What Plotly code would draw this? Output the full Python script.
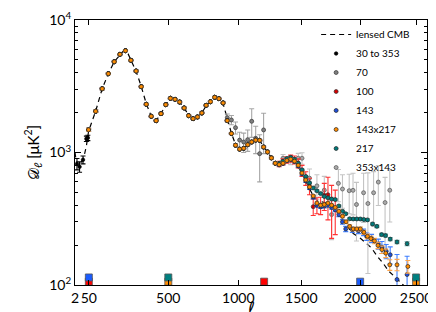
import plotly.graph_objects as go

# ---------------- data ----------------
# x axis of the reference is warped as ell**0.8
WARP = 0.8

# lensed CMB model curve
ell_model = [2, 5, 10, 20, 30, 40, 49, 80, 111, 142, 173, 204, 220, 235, 250, 266, 297, 328, 359, 390,
             421, 452, 483, 514, 545, 576, 607, 638, 669, 700, 731, 762, 793, 824, 855, 886, 917, 948,
             979, 1010, 1041, 1072, 1103, 1134, 1165, 1196, 1227, 1258, 1289, 1320, 1351, 1382, 1413,
             1444, 1475, 1506, 1537, 1568, 1599, 1630, 1661, 1692, 1723, 1754, 1785, 1816, 1847, 1878,
             1909, 1940, 1971, 2002, 2050, 2100, 2150, 2200, 2250, 2300, 2350, 2400, 2450, 2500, 2600]
D_model = [1000, 860, 800, 830, 920, 1120, 1450, 2050, 3030, 3935, 4840, 5500, 5780, 5830, 5550, 5000,
           4100, 3150, 2330, 1880, 1740, 1960, 2290, 2540, 2540, 2400, 2170, 1910, 1800, 1840, 1990,
           2250, 2450, 2580, 2540, 2340, 1800, 1400, 1150, 1065, 1080, 1140, 1200, 1235, 1230, 1110,
           1010, 910, 830, 800, 815, 850, 870, 845, 780, 690, 610, 530, 470, 440, 425, 420, 412, 395,
           370, 340, 310, 285, 262, 245, 235, 225, 208, 190, 165, 147, 128, 116, 106, 97, 89, 82, 72]

# common binned band powers (all channels agree here)
ell_low = [49, 80, 111, 142, 173, 204, 235, 266, 297, 328, 359, 390, 421, 452, 483, 514, 545, 576,
           607, 638, 669, 700, 731, 762, 793, 824, 855, 886]
D_low = [1486, 2047, 3030, 3935, 4842, 5510, 5865, 4966, 4122, 3140, 2312, 1876, 1738, 1964, 2296,
         2566, 2520, 2404, 2168, 1897, 1800, 1854, 1987, 2271, 2417, 2611, 2547, 2366]
err_low = [40, 45, 50, 60, 60, 70, 70, 60, 50, 40, 30, 25, 25, 25, 25, 25, 25, 25, 25, 20, 20, 20,
           20, 25, 25, 25, 25, 25]

ell_mid = [917, 948, 979, 1010, 1041, 1072, 1103, 1134, 1165, 1196, 1227, 1258, 1289]
D_mid = [1740, 1390, 1135, 1060, 1075, 1145, 1200, 1240, 1235, 1100, 1010, 910, 830]
err_mid = [20, 18, 16, 15, 15, 15, 16, 16, 16, 15, 15, 14, 14]

ell_hi = [1320, 1351, 1382, 1413, 1444, 1475, 1506, 1537, 1568, 1599, 1630, 1661, 1692, 1723,
          1754, 1785, 1816, 1847]

# 30 to 353 (low ell)
ell_030 = [7, 15, 27, 40, 46]
D_030 = [820, 780, 880, 1270, 1290]
err_030 = [80, 70, 60, 60, 60]

# 70 GHz
ell_70_tail = [917, 948, 979, 1010, 1041, 1072, 1103, 1134, 1165, 1196]
D_70_tail = [1830, 1760, 1540, 1240, 1200, 1250, 1720, 1280, 980, 1480]
err_70_tail = [120, 140, 160, 180, 200, 230, 420, 300, 380, 500]

# 100 GHz
D_100_hi = [820, 850, 880, 900, 880, 830, 730, 640, 560, 390, 400, 400, 475, 480, 395, 380]
err_100_hi = [40, 45, 50, 55, 60, 65, 70, 75, 80, 55, 55, 60, 110, 170, 170, 140]

# 143 GHz
D_143_hi = [805, 825, 865, 885, 855, 790, 690, 610, 540, 460, 400, 390, 395, 400, 385, 370, 340, 300]
err_143_hi = [15, 15, 16, 17, 17, 17, 16, 15, 14, 13, 12, 12, 12, 12, 12, 12, 12, 12]
ell_143_tail = [1875, 1932, 1986, 2030, 2058, 2100, 2160, 2192, 2230, 2266, 2327, 2418]
D_143_tail = [265, 261, 257, 250, 232, 225, 204, 193, 180, 169, 110, 120]
err_143_tail = [12, 12, 13, 14, 15, 16, 18, 20, 22, 25, 60, 45]

# 143x217
D_x_hi = [810, 830, 870, 890, 860, 800, 700, 620, 550, 470, 415, 400, 405, 415, 400, 385, 360, 330]
err_x_hi = [12, 12, 13, 13, 13, 12, 11, 10, 9, 9, 8, 8, 8, 8, 8, 8, 8, 8]
ell_x_tail = [1878, 1909, 1940, 1971, 2002, 2033, 2064, 2095, 2126, 2157, 2192, 2226, 2262, 2327, 2425]
D_x_tail = [300, 277, 265, 265, 265, 250, 233, 224, 215, 199, 185, 174, 142, 142, 138]
err_x_tail = [8, 8, 8, 8, 9, 9, 9, 10, 10, 11, 12, 13, 13, 14, 15]

# 217 GHz
D_217_hi = [830, 860, 900, 920, 890, 830, 740, 660, 590, 540, 514, 490, 466, 455, 445, 441, 395, 360]
err_217_hi = [10, 10, 11, 11, 11, 10, 9, 9, 8, 8, 8, 8, 7, 7, 7, 7, 7, 7]
ell_217_tail = [1875, 1909, 1940, 1971, 2002, 2033, 2064, 2109, 2147, 2189, 2224, 2266, 2327, 2418]
D_217_tail = [345, 316, 315, 315, 315, 312, 310, 289, 277, 240, 236, 222, 211, 205]
err_217_tail = [6, 6, 6, 6, 6, 6, 6, 6, 6, 6, 6, 6, 6, 7]

# 353x143
ell_353_hi = [1351, 1413, 1475, 1506, 1568, 1630, 1692, 1754, 1812, 1847, 1905, 1938, 1968, 2030,
              2068, 2118, 2160, 2220, 2262]
D_353_hi = [905, 880, 905, 905, 640, 560, 520, 340, 585, 530, 515, 518, 405, 497, 412, 497, 598,
            419, 519]
err_353_hi = [60, 70, 80, 90, 110, 120, 140, 120, 160, 150, 170, 180, 190, 200, 290, 220, 200, 230, 220]

# multipole range markers along the bottom
range_ell = [50, 50, 500, 500, 1200, 2000, 2500, 2500]
range_D = [106, 114, 106, 114, 106, 106, 106, 114]
range_col = ["#ff0000", "#1a5cff", "#ff8c00", "#008080", "#ff0000", "#1a5cff", "#ff8c00", "#008080"]

x_ticks = [2, 50, 500, 1000, 1500, 2000, 2500]
x_ticktext = ["2", "50", "500", "1000", "1500", "2000", "2500"]
x_max = 2600


def warp(ells):
    return [l ** WARP for l in ells]


FONT = "Lato, 'DejaVu Sans', sans-serif"
fig = go.Figure()

fig.add_trace(go.Scatter(x=warp(ell_model), y=D_model, mode="lines", name="lensed CMB",
                         line=dict(color="black", width=1.2, dash="5px,4px"), legendrank=1))


def add_series(name, ells, vals, errs, fill, edge, barcol, rank, size=4):
    fig.add_trace(go.Scatter(
        x=warp(ells), y=vals, mode="markers", name=name, legendrank=rank,
        marker=dict(color=fill, size=size, line=dict(color=edge, width=0.7)),
        error_y=dict(type="data", array=errs, visible=True, color=barcol, thickness=1.1, width=2.5)))


add_series("353x143", ell_low + ell_mid + ell_353_hi, D_low + D_mid + D_353_hi,
           err_low + err_mid + err_353_hi, "#a9a9a9", "#555555", "#c4c4c4", 8)
add_series("70", ell_low + ell_70_tail, D_low + D_70_tail, err_low + err_70_tail,
           "#7f7f7f", "#333333", "#a6a6a6", 3)
add_series("30 to 353", ell_030, D_030, err_030, "black", "black", "black", 2, size=3.5)
add_series("100", ell_low + ell_mid + ell_hi[:16], D_low + D_mid + D_100_hi,
           err_low + err_mid + err_100_hi, "#d40000", "#333333", "#ff3333", 4)
add_series("143", ell_low + ell_mid + ell_hi + ell_143_tail, D_low + D_mid + D_143_hi + D_143_tail,
           err_low + err_mid + err_143_hi + err_143_tail, "#1f4fd8", "#222222", "#3f7fff", 5)
add_series("217", ell_low + ell_mid + ell_hi + ell_217_tail, D_low + D_mid + D_217_hi + D_217_tail,
           err_low + err_mid + err_217_hi + err_217_tail, "#007b7b", "#222222", "#5fb3b3", 7)
add_series("143x217", ell_low + ell_mid + ell_hi + ell_x_tail, D_low + D_mid + D_x_hi + D_x_tail,
           err_low + err_mid + err_x_hi + err_x_tail, "#ff8c00", "#222222", "#ffa64d", 6)

fig.add_trace(go.Scatter(x=warp(range_ell), y=range_D, mode="markers", showlegend=False,
                         cliponaxis=False, hoverinfo="skip",
                         marker=dict(symbol="square", size=7, color=range_col,
                                     line=dict(color="#555555", width=0.8))))

axis_common = dict(showline=True, linecolor="black", linewidth=1, mirror="allticks", ticks="inside",
                   tickcolor="black", showgrid=False, zeroline=False, automargin=False,
                   tickfont=dict(family=FONT, size=14, color="black"))

fig.update_layout(
    width=436, height=312,
    margin=dict(l=67, r=17, t=12, b=35),
    paper_bgcolor="white", plot_bgcolor="white",
    font=dict(family=FONT, color="black"),
    showlegend=True,
    legend=dict(x=0.685, y=1.0, xanchor="left", yanchor="top", bgcolor="rgba(0,0,0,0)",
                font=dict(family=FONT, size=10, color="black"), traceorder="normal"),
    xaxis=dict(axis_common, range=[2 ** WARP, x_max ** WARP], tickmode="array",
               tickvals=warp(x_ticks), ticktext=x_ticktext, ticklen=5, tickangle=0),
    yaxis=dict(axis_common, type="log", range=[2, 4], tickmode="array",
               tickvals=[100, 1000, 10000],
               ticktext=["10<sup>2</sup>", "10<sup>3</sup>", "10<sup>4</sup>"], ticklen=6,
               minor=dict(ticks="inside", ticklen=3, tickcolor="black", tickmode="array",
                          tickvals=[200, 300, 400, 500, 600, 700, 800, 900,
                                    2000, 3000, 4000, 5000, 6000, 7000, 8000, 9000]),
               title=dict(text="𝒟<sub>ℓ</sub> [μK<sup>2</sup>]", font=dict(family=FONT, size=15),
                          standoff=6)),
    annotations=[dict(text="ℓ", xref="paper", yref="paper", x=0.5, y=-0.0868,
                      xanchor="center", yanchor="middle", showarrow=False,
                      font=dict(family="DejaVu Sans", size=17, color="black"))],
)

fig.write_html("out.html")
